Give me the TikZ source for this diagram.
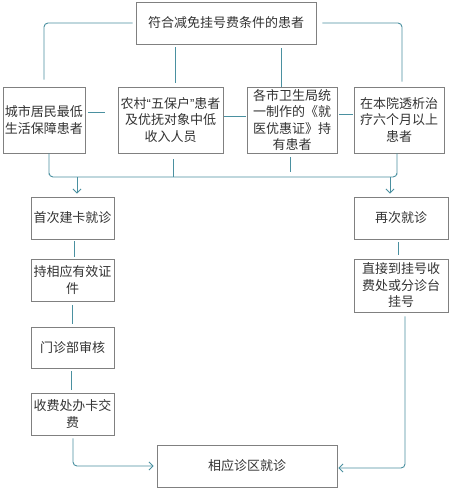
\documentclass[tikz,border=0pt]{standalone}
\usepackage{fontspec}
\setmainfont{Noto Sans CJK SC}
\newfontfamily\latinq{Liberation Sans}
\usetikzlibrary{arrows.meta,calc}
\definecolor{lineteal}{HTML}{4A90A0}
\definecolor{boxgray}{HTML}{808080}
\definecolor{txtgray}{HTML}{333333}
\tikzset{
  box/.style={draw=boxgray, line width=0.8pt, rectangle, inner sep=0pt, align=center,
    text=txtgray, font=\fontsize{13}{16.5}\selectfont},
  conn/.style={draw=lineteal, line width=0.9pt, rounded corners=4pt},
  arr/.style={conn, -{Straight Barb[length=4pt,width=8pt]}},
}
\begin{document}
\begin{tikzpicture}[x=1pt,y=-1pt]
\useasboundingbox (0,0) rectangle (451,490);
\fill[white] (0,0) rectangle (451,490);
% nodes
\node[box, minimum width=180pt, minimum height=42pt] (top) at (226,23) {符合减免挂号费条件的患者};
\node[box, minimum width=82pt, minimum height=66pt] (b1) at (44,120) {城市居民最低\\生活保障患者};
\node[box, minimum width=105pt, minimum height=66pt] (b2) at (170.5,120) {农村{\latinq“}五保户{\latinq”}患者\\及优抚对象中低\\收入人员};
\node[box, minimum width=90pt, minimum height=66pt] (b3) at (292,120) {各市卫生局统\\一制作的《就\\医优惠证》持\\有患者};
\node[box, minimum width=90pt, minimum height=66pt] (b4) at (399,120) {在本院透析治\\疗六个月以上\\患者};
\node[box, minimum width=83pt, minimum height=42pt] (l1) at (72.5,218) {首次建卡就诊};
\node[box, minimum width=83pt, minimum height=42pt] (l2) at (72.5,280) {持相应有效证\\件};
\node[box, minimum width=83pt, minimum height=41pt] (l3) at (72.5,347.5) {门诊部审核};
\node[box, minimum width=83pt, minimum height=42pt] (l4) at (72.5,414) {收费处办卡交\\费};
\node[box, minimum width=94pt, minimum height=42pt] (r1) at (401,218) {再次就诊};
\node[box, minimum width=94pt, minimum height=53pt] (r2) at (401,285.5) {直接到挂号收\\费处或分诊台\\挂号};
\node[box, minimum width=180pt, minimum height=42pt] (fin) at (247,466) {相应诊区就诊};
% coordinates
\coordinate (busL) at (49,177);
\coordinate (busR) at (397,177);
\coordinate (aL) at (77,177);
\coordinate (aR) at (390,177);
% top to row
\draw[conn, shorten <=3pt, shorten >=7pt] (top.west) -| (b1.north);
\draw[conn, shorten <=6pt, shorten >=5pt] (top.east) -| ($(b4.north)+(3,0)$);
\draw[conn, shorten <=3pt, shorten >=4pt] (top.south -| 175,0) -- (b2.north -| 175,0);
\draw[conn, shorten <=4pt] (top.south -| 281,0) -- (b3.north -| 281,0);
% row links
\draw[conn, shorten <=3pt, shorten >=13pt] (b1.east |- 0,112) -- (b2.west |- 0,112);
\draw[conn, shorten <=1pt, shorten >=1pt] (b2.east |- 0,116) -- (b3.west |- 0,116);
\draw[conn, shorten <=2pt, shorten >=1pt] (b3.east |- 0,114) -- (b4.west |- 0,114);
% bus
\draw[conn] (b1.south -| busL) |- (busL) -- (busR) -| (b4.south -| busR);
\draw[conn, shorten <=6pt] (b2.south -| 173,0) -- (173,177);
\draw[conn, shorten <=4pt] (b3.south -| 290,0) -- (290,172);
\draw[arr, shorten >=3pt] (aL) -- (l1.north -| aL);
\draw[arr, shorten >=3pt] (aR) -- (r1.north -| aR);
% left column
\draw[conn, shorten <=2pt, shorten >=2pt] (l1.south -| 74,0) -- (l2.north -| 74,0);
\draw[conn, shorten <=4pt, shorten >=3pt] (l2.south -| 72,0) -- (l3.north -| 72,0);
\draw[conn, shorten <=3pt, shorten >=3pt] (l3.south -| 71,0) -- (l4.north -| 71,0);
\draw[arr, shorten <=3pt, shorten >=3pt] (l4.south -| 73,0) |- (fin.west);
% right column
\draw[conn, shorten <=3pt, shorten >=4pt] (r1.south -| 398,0) -- (r2.north -| 398,0);
\draw[arr, shorten <=4pt, shorten >=1pt] (r2.south -| 405,0) |- ($(fin.east)+(0,2)$);
\end{tikzpicture}
\end{document}
